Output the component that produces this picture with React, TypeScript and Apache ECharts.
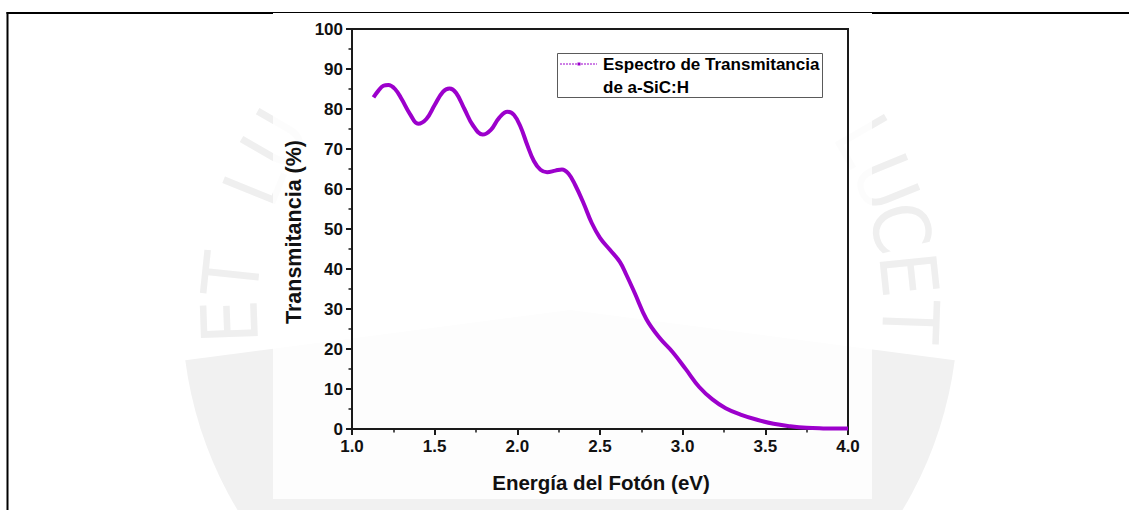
import React, { useEffect, useRef } from "react";
import * as echarts from "echarts";

// Photon energy (eV) and transmittance (%) of the a-SiC:H film
const energy = [
  1.13, 1.16, 1.19, 1.22, 1.26, 1.3, 1.35, 1.4, 1.45, 1.5, 1.55, 1.59, 1.63, 1.68, 1.73,
  1.79, 1.84, 1.89, 1.94, 1.98, 2.02, 2.06, 2.1, 2.14, 2.18, 2.23, 2.27, 2.31, 2.35, 2.4,
  2.45, 2.5, 2.56, 2.62, 2.66, 2.71, 2.78, 2.86, 2.94, 3.02, 3.1, 3.18, 3.26, 3.35, 3.45,
  3.55, 3.65, 3.75, 3.85, 3.95, 4.0,
];
const transmittance = [
  82.9, 84.6, 85.8, 86.0, 85.0, 82.5, 78.8, 76.3, 77.5, 81.0, 84.3, 85.1, 84.0, 80.0, 76.0,
  73.6, 74.8, 77.8, 79.3, 78.5, 75.5, 71.0, 67.0, 64.8, 64.2, 64.6, 64.9, 63.8, 61.0, 56.5,
  51.5, 47.8, 44.8, 41.8, 38.5, 34.0, 27.5, 22.8, 19.2, 14.9, 10.5, 7.4, 5.2, 3.6, 2.3,
  1.3, 0.7, 0.3, 0.15, 0.1, 0.1,
];

const xTitle = "Energía del Fotón (eV)";
const yTitle = "Transmitancia (%)";
const legendLines = ["Espectro de Transmitancia", "de a-SiC:H"];
const sealText = "ET LUX IN TENEBRIS LUCET";

const FONT = 'Arial, "Liberation Sans", Helvetica, sans-serif';
const CURVE = "#9c00cc";
const INK = "#1a1a1a";

// Seal lettering around an arc; only the letters that sit beside the figure panel are drawn
function sealLetters() {
  const cx = 570;
  const cy = 310;
  const r = 340;
  const out: any[] = [];
  sealText.split("").forEach((ch, i) => {
    if (ch === " ") return;
    const deg = 182 - 8 * i;
    const t = (deg * Math.PI) / 180;
    const x = cx + r * Math.cos(t);
    const y = cy - r * Math.sin(t);
    if (!(x < 280 || x > 860)) return;
    out.push({
      type: "text",
      x,
      y,
      rotation: ((deg - 90) * Math.PI) / 180,
      z: -20,
      silent: true,
      style: {
        text: ch,
        fill: "#efefef",
        font: `normal 78px "Liberation Sans Narrow", "DejaVu Sans Condensed", sans-serif`,
        align: "center",
        verticalAlign: "middle",
      },
    });
  });
  return out;
}

export default function App() {
  const ref = useRef<HTMLDivElement>(null);

  useEffect(() => {
    if (!ref.current) return;
    const chart = echarts.init(ref.current, null, { renderer: "svg" });
    const data = energy.map((e, i) => [e, transmittance[i]]);

    const option: any = {
      animation: false,
      backgroundColor: "#ffffff",
      grid: {
        left: 352,
        top: 29,
        width: 496,
        height: 400,
        show: true,
        borderColor: INK,
        borderWidth: 2,
        backgroundColor: "transparent",
        containLabel: false,
      },
      xAxis: {
        type: "value",
        min: 1,
        max: 4,
        interval: 0.5,
        axisLine: { show: true, lineStyle: { color: INK, width: 2 } },
        axisTick: { show: true, length: 6, lineStyle: { color: INK, width: 2 } },
        minorTick: { show: true, splitNumber: 2, length: 3.5, lineStyle: { color: INK, width: 1.5 } },
        splitLine: { show: false },
        axisLabel: {
          fontFamily: FONT,
          fontSize: 17,
          fontWeight: "bold",
          color: "#111",
          margin: 9,
          formatter: (v: number) => v.toFixed(1),
        },
      },
      yAxis: {
        type: "value",
        min: 0,
        max: 100,
        interval: 10,
        axisLine: { show: true, lineStyle: { color: INK, width: 2 } },
        axisTick: { show: true, length: 6, lineStyle: { color: INK, width: 2 } },
        minorTick: { show: true, splitNumber: 2, length: 3.5, lineStyle: { color: INK, width: 1.5 } },
        splitLine: { show: false },
        axisLabel: {
          fontFamily: FONT,
          fontSize: 17,
          fontWeight: "bold",
          color: "#111",
          margin: 9,
        },
      },
      series: [
        {
          type: "line",
          data,
          smooth: 0.4,
          showSymbol: false,
          z: 5,
          lineStyle: { color: CURVE, width: 4 },
          itemStyle: { color: CURVE },
        },
      ],
      graphic: [
        // faint seal behind the figure
        {
          type: "sector",
          z: -30,
          silent: true,
          shape: { cx: 570, cy: 310, r: 388, r0: 0, startAngle: 0.13, endAngle: Math.PI - 0.13 },
          style: { fill: "#f1f1f1" },
        },
        ...sealLetters(),
        // white figure panel
        {
          type: "rect",
          z: -10,
          silent: true,
          shape: { x: 273, y: 13, width: 599, height: 486 },
          style: { fill: "rgba(255,255,255,0.82)" },
        },
        // page frame lines
        {
          type: "line",
          z: -5,
          silent: true,
          shape: { x1: 6.5, y1: 13, x2: 273, y2: 13 },
          style: { stroke: "#000", lineWidth: 2 },
        },
        {
          type: "line",
          z: -5,
          silent: true,
          shape: { x1: 273, y1: 12.5, x2: 872, y2: 12.5 },
          style: { stroke: "#000", lineWidth: 1 },
        },
        {
          type: "line",
          z: -5,
          silent: true,
          shape: { x1: 872, y1: 13, x2: 1129, y2: 13 },
          style: { stroke: "#000", lineWidth: 2 },
        },
        {
          type: "line",
          z: -5,
          silent: true,
          shape: { x1: 7.5, y1: 12, x2: 7.5, y2: 510 },
          style: { stroke: "#000", lineWidth: 2 },
        },
        // axis titles
        {
          type: "text",
          x: 601,
          y: 482,
          z: 10,
          style: {
            text: xTitle,
            fill: "#111",
            font: `bold 20.5px ${FONT}`,
            align: "center",
            verticalAlign: "middle",
          },
        },
        {
          type: "text",
          x: 294,
          y: 232,
          rotation: Math.PI / 2,
          z: 10,
          style: {
            text: yTitle,
            fill: "#111",
            font: `bold 21.5px ${FONT}`,
            align: "center",
            verticalAlign: "middle",
          },
        },
        // legend box
        {
          type: "rect",
          z: 20,
          shape: { x: 557.5, y: 53.5, width: 265, height: 44 },
          style: { fill: "#ffffff", stroke: "#5a5a5a", lineWidth: 1 },
        },
        {
          type: "line",
          z: 21,
          shape: { x1: 560, y1: 64, x2: 597, y2: 64 },
          style: { stroke: CURVE, lineWidth: 1, lineDash: [2, 1] },
        },
        {
          type: "rect",
          z: 22,
          shape: { x: 577.5, y: 62.5, width: 3, height: 3 },
          style: { fill: CURVE },
        },
        {
          type: "text",
          x: 603,
          y: 64,
          z: 22,
          style: {
            text: legendLines[0],
            fill: "#000",
            font: `bold 17px ${FONT}`,
            align: "left",
            verticalAlign: "middle",
          },
        },
        {
          type: "text",
          x: 603,
          y: 87,
          z: 22,
          style: {
            text: legendLines[1],
            fill: "#000",
            font: `bold 17px ${FONT}`,
            align: "left",
            verticalAlign: "middle",
          },
        },
      ],
    };

    chart.setOption(option);
    return () => {
      chart.dispose();
    };
  }, []);

  return (
    <div
      ref={ref}
      style={{ position: "absolute", left: 0, top: 0, width: 1129, height: 510 }}
    />
  );
}
